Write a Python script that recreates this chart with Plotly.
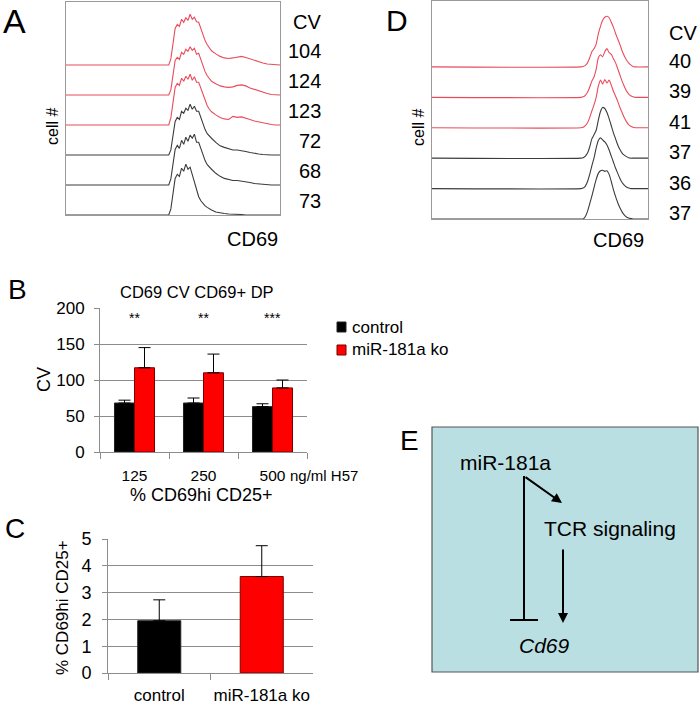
import plotly.graph_objects as go

W, H = 700, 704
FONT = "Liberation Sans, Arial, sans-serif"
RED = "#e84c5c"
DARK = "#3c3c3c"
GRID = "#8c8c8c"

# panel A: CD69 histograms, counts normalised to peak = 100 (top row first)
a_channel = [0, 48, 49, 50, 51, 52, 53, 54, 55, 56, 57, 58, 59, 60, 61, 62, 63, 64, 65,
             66, 67, 68, 70, 72, 74, 76, 78, 80, 82, 84, 86, 88, 90, 92, 94, 96, 98, 100]
a_ko1 = [0, 0, 12, 45, 72, 80, 76, 90, 84, 93, 88, 100, 90, 94, 85, 84, 72, 58, 48, 40, 33, 28,
         22, 17, 14, 13, 14, 16, 17, 15, 12, 9, 6, 4, 2, 1, 0, 0]
a_ko2 = [0, 0, 10, 40, 68, 74, 70, 84, 80, 90, 86, 95, 88, 92, 80, 82, 70, 56, 46, 38, 32, 27,
         22, 18, 16, 15, 16, 19, 20, 18, 14, 11, 8, 5, 3, 1, 0, 0]
a_ko3 = [0, 0, 14, 48, 74, 82, 78, 92, 86, 96, 90, 100, 88, 95, 84, 84, 72, 58, 47, 38, 31, 26,
         20, 15, 12, 11, 17, 15, 16, 14, 11, 8, 6, 4, 2, 1, 0, 0]
a_ctl1 = [0, 0, 10, 40, 66, 74, 70, 86, 82, 92, 88, 100, 90, 96, 86, 86, 74, 60, 50, 42, 37, 33,
          25, 18, 15, 12, 10, 10, 9, 7, 5, 3, 2, 1, 0, 0, 0, 0]
a_ctl2 = [0, 0, 12, 44, 70, 78, 72, 88, 80, 94, 86, 98, 92, 100, 84, 84, 72, 58, 48, 40, 35, 31,
          23, 17, 13, 11, 9, 9, 8, 7, 5, 3, 2, 1, 0, 0, 0, 0]
a_ctl3 = [0, 0, 12, 46, 72, 80, 76, 92, 86, 100, 90, 94, 80, 66, 48, 36, 28, 22, 18, 15, 12, 10,
          6, 4, 3, 2, 2, 1, 1, 0, 0, 0, 0, 0, 0, 0, 0, 0]
a_cv = [104, 124, 123, 72, 68, 73]

# panel D: CD69 histograms, second condition
d_channel = [0, 69, 70, 71, 72, 73, 74, 75, 76, 77, 78, 79, 80, 81, 82, 83, 84, 85, 86,
             87, 88, 89, 90, 91, 92, 93, 94, 100]
d_ko1 = [0, 0, 1, 3, 8, 18, 30, 36, 45, 65, 80, 92, 98, 100, 97, 88, 78, 66, 55, 44, 32, 22, 14, 8, 4, 1, 0, 0]
d_ko2 = [0, 0, 1, 4, 10, 20, 32, 40, 55, 78, 84, 80, 90, 96, 88, 85, 76, 68, 56, 44, 32, 22, 13, 7, 3, 1, 0, 0]
d_ko3 = [0, 0, 1, 4, 10, 20, 33, 45, 60, 82, 94, 86, 95, 88, 94, 84, 72, 62, 52, 40, 30, 20, 12, 6, 3, 1, 0, 0]
d_ctl1 = [0, 0, 1, 4, 10, 22, 38, 46, 55, 75, 92, 100, 98, 90, 78, 64, 50, 38, 26, 17, 10, 6, 3, 1, 0, 0, 0, 0]
d_ctl2 = [0, 0, 1, 5, 14, 28, 45, 60, 80, 95, 100, 96, 92, 86, 76, 64, 52, 40, 30, 20, 12, 7, 3, 1, 0, 0, 0, 0]
d_ctl3 = [0, 0, 0, 5, 15, 30, 45, 62, 78, 90, 95, 96, 94, 95, 88, 74, 58, 44, 32, 22, 14, 8, 4, 2, 1, 0, 0, 0]
d_cv = [40, 39, 41, 37, 36, 37]

# panel B: CD69 CV of CD69+ DP cells
b_dose = ["125", "250", "500"]
b_control = [68, 68, 63]
b_control_err = [4, 7, 4]
b_ko = [117, 110, 89]
b_ko_err = [28, 26, 11]
b_sig = ["**", "**", "***"]

# panel C: % CD69hi CD25+
c_group = ["control", "miR-181a ko"]
c_value = [1.95, 3.6]
c_err = [0.78, 1.15]


def px(x):
    return x / W


def py(y):
    return 1 - y / H


STEP_A = 59
STEP_D = 60

fig = go.Figure()

a_rows = [a_ko1, a_ko2, a_ko3, a_ctl1, a_ctl2, a_ctl3]
d_rows = [d_ko1, d_ko2, d_ko3, d_ctl1, d_ctl2, d_ctl3]
row_col = [RED, RED, RED, DARK, DARK, DARK]

for i, counts in enumerate(a_rows):
    off = (5 - i) * STEP_A
    fig.add_trace(go.Scatter(x=a_channel, y=[c + off for c in counts], mode="lines",
                             line=dict(color=row_col[i], width=1.1), xaxis="x", yaxis="y",
                             showlegend=False, hoverinfo="skip"))
for i, counts in enumerate(d_rows):
    off = (5 - i) * STEP_D
    fig.add_trace(go.Scatter(x=d_channel, y=[c + off for c in counts], mode="lines",
                             line=dict(color=row_col[i], width=1.1, shape="spline", smoothing=0.6),
                             xaxis="x2", yaxis="y2", showlegend=False, hoverinfo="skip"))

# B bars
fig.add_trace(go.Bar(x=b_dose, y=b_control, width=0.29, offset=-0.29, xaxis="x3", yaxis="y3",
                     marker=dict(color="black", line=dict(color="#222", width=1)),
                     error_y=dict(type="data", array=b_control_err, arrayminus=[0, 0, 0],
                                  symmetric=False, color="black", thickness=1, width=6),
                     showlegend=False))
fig.add_trace(go.Bar(x=b_dose, y=b_ko, width=0.29, offset=0, xaxis="x3", yaxis="y3",
                     marker=dict(color="#ff0000", line=dict(color="#7a0000", width=1)),
                     error_y=dict(type="data", array=b_ko_err, arrayminus=[0, 0, 0],
                                  symmetric=False, color="black", thickness=1, width=6),
                     showlegend=False))
# C bars
fig.add_trace(go.Bar(x=c_group, y=c_value, width=0.42, xaxis="x4", yaxis="y4",
                     marker=dict(color=["black", "#ff0000"],
                                 line=dict(color=["#222", "#7a0000"], width=1)),
                     error_y=dict(type="data", array=c_err, arrayminus=[0, 0],
                                  symmetric=False, color="black", thickness=1, width=6),
                     showlegend=False))

hist_axis = dict(showline=True, mirror=True, linecolor="#9a9a9a", linewidth=1, automargin=False,
                 showticklabels=False, showgrid=False, zeroline=False, ticks="", fixedrange=True)

fig.update_layout(
    width=W, height=H, margin=dict(l=0, r=0, t=0, b=0, pad=0, autoexpand=False),
    paper_bgcolor="white", plot_bgcolor="white",
    font=dict(family=FONT, color="black"),
    barmode="overlay",
    xaxis=dict(hist_axis, domain=[px(66), px(280)], range=[0, 100], anchor="y"),
    yaxis=dict(hist_axis, domain=[py(215), py(2)], range=[0, 419], anchor="x"),
    xaxis2=dict(hist_axis, domain=[px(432), px(648)], range=[0, 100], anchor="y2"),
    yaxis2=dict(hist_axis, domain=[py(219), py(1)], range=[0, 430], anchor="x2"),
    xaxis3=dict(domain=[px(100), px(307)], anchor="y3", type="category", range=[-0.5, 2.5],
                tickson="boundaries", ticks="outside", ticklen=6, tickcolor=GRID, showline=True,
                linecolor=GRID, showgrid=False, tickfont=dict(size=15.5), tickangle=0,
                ticklabelstandoff=9, automargin=False),
    yaxis3=dict(domain=[py(452), py(308)], anchor="x3", range=[0, 200], tickvals=[0, 50, 100, 150, 200],
                ticks="outside", ticklen=5, tickcolor=GRID, showline=True, linecolor=GRID,
                showgrid=True, gridcolor=GRID, zeroline=False, tickfont=dict(size=17),
                ticklabelstandoff=6, automargin=False),
    xaxis4=dict(domain=[px(108), px(313)], anchor="y4", type="category", range=[-0.5, 1.5],
                tickson="boundaries", ticks="outside", ticklen=6, tickcolor=GRID, showline=True,
                linecolor=GRID, showgrid=False, tickfont=dict(size=17), tickangle=0,
                ticklabelstandoff=7, automargin=False),
    yaxis4=dict(domain=[py(673), py(539)], anchor="x4", range=[0, 5], dtick=1,
                ticks="outside", ticklen=5, tickcolor=GRID, showline=True, linecolor=GRID,
                showgrid=True, gridcolor=GRID, zeroline=False, tickfont=dict(size=18),
                ticklabelstandoff=7, automargin=False),
)

ann = []


def label(x, y, text, size, **kw):
    d = dict(x=px(x), y=py(y), xref="paper", yref="paper", text=text, showarrow=False,
             font=dict(size=size, family=FONT, color="black"), xanchor="center", yanchor="middle")
    d.update(kw)
    ann.append(d)


# panel letters
label(1, 0, "A", 34, xanchor="left", yanchor="top")
label(397, 21, "D", 30)
label(17, 290, "B", 28)
label(15, 528, "C", 28)
label(409, 440, "E", 28)

# histogram labels
label(323, 22, "CV", 20, xanchor="right")
for i, cv in enumerate(a_cv):
    ann.append(dict(x=px(323), y=(5 - i) * STEP_A + 28, xref="paper", yref="y", text=str(cv),
                    showarrow=False, font=dict(size=20, family=FONT), xanchor="right", yanchor="middle"))
label(667, 33, "CV", 20, xanchor="left")
for i, cv in enumerate(d_cv):
    ann.append(dict(x=px(667), y=(5 - i) * STEP_D + 12, xref="paper", yref="y2", text=str(cv),
                    showarrow=False, font=dict(size=20, family=FONT), xanchor="left", yanchor="middle"))
label(52, 127, "cell #", 16, textangle=-90)
label(418, 128, "cell #", 16, textangle=-90)
label(252, 239, "CD69", 20)
label(618, 240, "CD69", 20)

# panel B text
label(197, 292, "CD69 CV CD69+ DP", 16.5)
label(44, 380, "CV", 18, textangle=-90)
label(288, 475, "ng/ml H57", 15, xanchor="left")
for i, s in enumerate(b_sig):
    ann.append(dict(x=i, y=186, xref="x3", yref="y3", text=s, showarrow=False,
                    font=dict(size=14, family=FONT), xanchor="center", yanchor="middle"))
label(350, 327, "control", 17, xanchor="left")
label(350, 350, "miR-181a ko", 17, xanchor="left")

# panel C text
label(201, 495, "% CD69hi CD25+", 18)
label(62, 607, "% CD69hi CD25+", 17, textangle=-90)

# panel E diagram
label(505, 462, "miR-181a", 21)
label(610, 528, "TCR signaling", 21)
label(544, 645, "<i>Cd69</i>", 21)
ann.append(dict(x=px(562), y=py(503), xref="paper", yref="paper", ax=524 - 562, ay=476 - 503,
                axref="pixel", ayref="pixel", text="", showarrow=True, arrowhead=2, arrowsize=1,
                arrowwidth=2, arrowcolor="black", standoff=0))
ann.append(dict(x=px(563), y=py(623), xref="paper", yref="paper", ax=0, ay=548 - 623,
                axref="pixel", ayref="pixel", text="", showarrow=True, arrowhead=2, arrowsize=1,
                arrowwidth=2, arrowcolor="black", standoff=0))

shapes = [
    dict(type="rect", xref="paper", yref="paper", x0=px(432), x1=px(698), y0=py(672), y1=py(427),
         fillcolor="#badfe2", line=dict(color="#555", width=1.2), layer="below"),
    dict(type="line", xref="paper", yref="paper", x0=px(524), x1=px(524), y0=py(476), y1=py(620),
         line=dict(color="black", width=2)),
    dict(type="line", xref="paper", yref="paper", x0=px(510), x1=px(538), y0=py(620), y1=py(620),
         line=dict(color="black", width=2)),
    # legend swatches for panel B
    dict(type="rect", xref="paper", yref="paper", x0=px(337), x1=px(346), y0=py(332), y1=py(322),
         fillcolor="black", line=dict(color="#222", width=1)),
    dict(type="rect", xref="paper", yref="paper", x0=px(337), x1=px(346), y0=py(355), y1=py(345),
         fillcolor="#ff0000", line=dict(color="#7a0000", width=1)),
]

fig.update_layout(annotations=ann, shapes=shapes)

fig.write_html("out.html", config={"displayModeBar": False},
               post_script="document.body.style.margin='0';")
